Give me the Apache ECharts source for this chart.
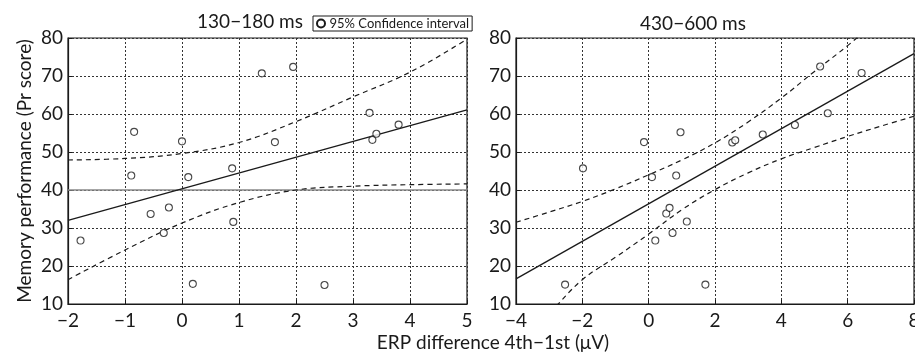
<!DOCTYPE html>
<html>
<head>
<meta charset="utf-8">
<script src="https://cdn.jsdelivr.net/npm/echarts@6/dist/echarts.min.js"></script>
<style>
  html, body { margin: 0; padding: 0; background: #fff; }
  #chart { width: 915px; height: 358px; }
</style>
</head>
<body>
<div id="chart"></div>
<script>
// left panel: 130-180 ms
const leftX = [-1.78, -0.89, -0.84, -0.55, -0.32, -0.23, 0.0, 0.11, 0.19, 0.88, 0.90, 1.40, 1.63, 1.95, 2.50, 3.29, 3.34, 3.41, 3.80];
const leftY = [26.7, 43.8, 55.3, 33.7, 28.7, 35.4, 52.8, 43.4, 15.3, 45.7, 31.6, 70.7, 52.6, 72.4, 15.0, 60.3, 53.2, 54.8, 57.2];
const leftFitX = [-2, 5];
const leftFitY = [32.0, 61.1];
const leftCiX = [-2, -1, 0, 1, 2, 3, 4, 5];
const leftCiUpper = [47.9, 48.3, 49.6, 52.5, 58.0, 64.5, 71.0, 79.7];
const leftCiLower = [16.4, 24.2, 31.3, 36.7, 40.0, 41.0, 41.4, 41.6];
const leftRefX = [-2, 5];
const leftRefY = [40, 40];

// right panel: 430-600 ms
const rightX = [-2.52, -1.98, -0.14, 0.10, 0.20, 0.53, 0.63, 0.72, 0.83, 0.96, 1.15, 1.71, 2.52, 2.61, 3.44, 4.41, 5.17, 5.40, 6.42];
const rightY = [15.1, 45.7, 52.6, 43.4, 26.7, 33.8, 35.3, 28.7, 43.8, 55.2, 31.7, 15.1, 52.5, 53.1, 54.6, 57.1, 72.5, 60.2, 70.8];
const rightFitX = [-4, 8];
const rightFitY = [16.6, 75.9];
const rightCiX = [-4, -3, -2, -1, 0, 1, 2, 3, 4, 5, 6, 7, 8];
const rightCiUpper = [31.5, 34.2, 37.0, 40.3, 44.0, 47.9, 52.4, 57.9, 64.2, 71.2, 78.0, 85.5, 93.5];
const rightCiLower = [0.0, 7.6, 16.4, 22.3, 28.4, 34.8, 40.1, 44.5, 48.2, 51.2, 54.1, 56.8, 59.4];

const yTicks = { min: 10, max: 80, interval: 10 };
const panelTitles = ["130−180 ms", "430−600 ms"];
const yName = "Memory performance (Pr score)";
const xName = "ERP difference 4th−1st (μV)";
const ciName = "95% Confidence interval";

const font = "Lato, 'DejaVu Sans', sans-serif";
const ink = "#1a1a1a";
const zip = (xs, ys) => xs.map((x, i) => [x, ys[i]]);
const minus = (v) => String(v).replace("-", "−");

const xAxisBase = (min, max, interval, idx) => ({
  type: "value",
  gridIndex: idx,
  min, max, interval,
  axisLine: { show: true, onZero: false, lineStyle: { color: ink, width: 1.2 } },
  axisTick: { show: true, inside: true, length: 4, lineStyle: { color: ink } },
  axisLabel: { color: ink, fontSize: 19, fontFamily: font, margin: 7, formatter: minus },
  splitLine: { show: true, lineStyle: { color: "#333", type: [2, 2], width: 1 } },
});

const yAxisBase = (idx, extra) => Object.assign({
  type: "value",
  gridIndex: idx,
  min: yTicks.min, max: yTicks.max, interval: yTicks.interval,
  axisLine: { show: true, onZero: false, lineStyle: { color: ink, width: 1.2 } },
  axisTick: { show: true, inside: true, length: 4, lineStyle: { color: ink } },
  axisLabel: { color: ink, fontSize: 19, fontFamily: font, margin: 5 },
  splitLine: { show: true, lineStyle: { color: "#333", type: [2, 2], width: 1 } },
}, extra);

const scatter = (idx, data) => ({
  type: "scatter",
  xAxisIndex: idx, yAxisIndex: idx,
  data,
  symbol: "circle",
  symbolSize: 7,
  itemStyle: { color: "#fff", borderColor: ink, borderWidth: 1.1 },
  z: 5,
});

const line = (idx, data, opts) => Object.assign({
  type: "line",
  xAxisIndex: idx, yAxisIndex: idx,
  data,
  showSymbol: false,
  symbol: "none",
  clip: true,
  silent: true,
  itemStyle: { color: ink },
  lineStyle: { color: ink, width: 1.3 },
}, opts);

const dashed = { color: ink, width: 1.2, type: [5, 4] };
const titleStyle = { fontSize: 19, fontWeight: "normal", color: ink, fontFamily: font };

const chart = echarts.init(document.getElementById("chart"));
chart.setOption({
  backgroundColor: "#fff",
  animation: false,
  textStyle: { fontFamily: font },
  title: [
    { text: panelTitles[0], left: 245, top: 7, textAlign: "center", textStyle: titleStyle },
    { text: panelTitles[1], left: 688, top: 9, textAlign: "center", textStyle: titleStyle },
    { text: xName, left: 488, top: 328, textAlign: "center", textStyle: titleStyle },
  ],
  legend: {
    data: [{ name: ciName, icon: "emptyCircle", itemStyle: { color: ink, borderColor: ink, borderWidth: 1 } }],
    left: 313, top: 16,
    padding: [1, 3],
    itemWidth: 11, itemHeight: 8, itemGap: 2,
    borderColor: ink, borderWidth: 1,
    backgroundColor: "#fff",
    selectedMode: false,
    textStyle: { fontSize: 13, color: ink, fontFamily: font, padding: [0, 0, 0, -2] },
  },
  grid: [
    { left: 68, right: 448, top: 38, bottom: 54, show: true, borderColor: ink, borderWidth: 1.2, containLabel: false, outerBoundsMode: "none" },
    { left: 516, right: 1, top: 38, bottom: 54, show: true, borderColor: ink, borderWidth: 1.2, containLabel: false, outerBoundsMode: "none" },
  ],
  xAxis: [
    xAxisBase(-2, 5, 1, 0),
    xAxisBase(-4, 8, 2, 1),
  ],
  yAxis: [
    yAxisBase(0, {
      name: yName, nameLocation: "middle", nameGap: 34, nameRotate: 90,
      nameTextStyle: { fontSize: 19, color: ink, fontFamily: font },
    }),
    yAxisBase(1, {}),
  ],
  series: [
    line(0, zip(leftRefX, leftRefY), { lineStyle: { color: "#888", width: 1.6 }, z: 2 }),
    line(0, zip(leftFitX, leftFitY), { z: 3 }),
    line(0, zip(leftCiX, leftCiUpper), { name: ciName, smooth: 0.4, lineStyle: dashed, z: 3 }),
    line(0, zip(leftCiX, leftCiLower), { name: ciName, smooth: 0.4, lineStyle: dashed, z: 3 }),
    scatter(0, zip(leftX, leftY)),
    line(1, zip(rightFitX, rightFitY), { z: 3 }),
    line(1, zip(rightCiX, rightCiUpper), { name: ciName, smooth: 0.4, lineStyle: dashed, z: 3 }),
    line(1, zip(rightCiX, rightCiLower), { name: ciName, smooth: 0.4, lineStyle: dashed, z: 3 }),
    scatter(1, zip(rightX, rightY)),
  ],
});
</script>
</body>
</html>
